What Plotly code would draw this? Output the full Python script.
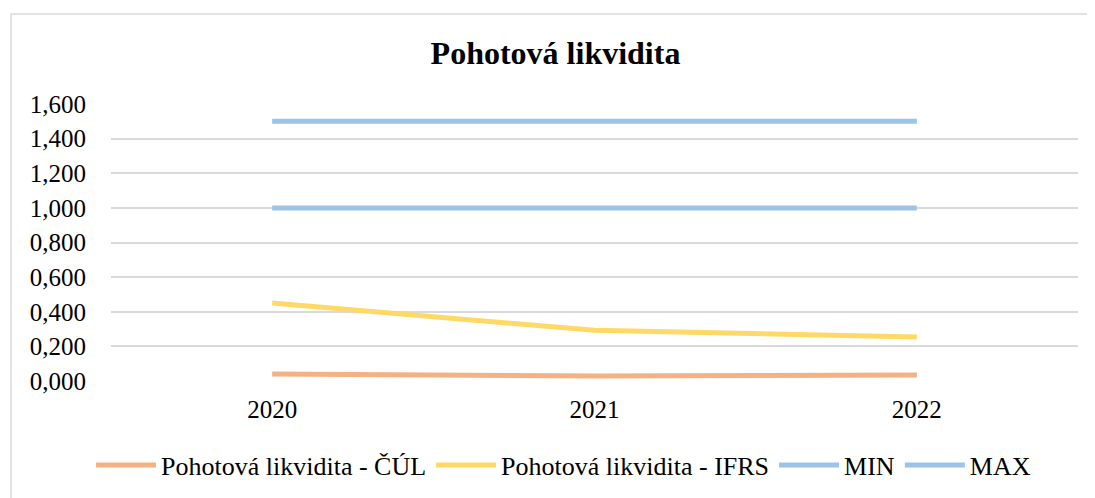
import plotly.graph_objects as go

years = ["2020", "2021", "2022"]
cul = [0.040, 0.029, 0.035]
ifrs = [0.450, 0.293, 0.254]
min_v = [1.0, 1.0, 1.0]
max_v = [1.5, 1.5, 1.5]

names = ["Pohotová likvidita - ČÚL", "Pohotová likvidita - IFRS", "MIN", "MAX"]
colors = ["#F4B183", "#FFD966", "#9DC3E6", "#9DC3E6"]
series = [cul, ifrs, min_v, max_v]

font_family = "Liberation Serif"

fig = go.Figure()
for n, c, s in zip(names, colors, series):
    fig.add_trace(go.Scatter(x=years, y=s, name=n, mode="lines",
                             line=dict(color=c, width=5)))

fig.update_layout(
    width=1095, height=498,
    paper_bgcolor="white", plot_bgcolor="white",
    margin=dict(l=103, r=25, t=96, b=125),
    separators=", ",
    font=dict(family=font_family, size=25, color="#000000"),
    title=dict(text="<b>Pohotová likvidita</b>", x=0.5, xanchor="center",
               y=0.91, yanchor="middle",
               font=dict(family=font_family, size=32, color="#000000")),
    showlegend=True,
    legend=dict(orientation="h", x=0.468, xanchor="center", y=-0.304, yanchor="middle",
                font=dict(family=font_family, size=26, color="#000000"),
                itemwidth=60, tracegroupgap=0),
    xaxis=dict(type="category", range=[-0.5, 2.5], showgrid=False, showline=False,
               ticks="", tickfont=dict(family=font_family, size=25, color="#000000"),
               ticklabelstandoff=11),
    yaxis=dict(range=[0, 1.6], dtick=0.2, tickformat=".3f", showgrid=True,
               gridcolor="#D9D9D9", gridwidth=1.5, zeroline=False, showline=False,
               ticks="", tickfont=dict(family=font_family, size=25, color="#000000"),
               ticklabelstandoff=24),
    shapes=[dict(type="rect", xref="paper", yref="paper",
                 x0=-0.1034, x1=1.05, y0=-0.45, y1=1.325,
                 line=dict(color="#D9D9D9", width=1.5), fillcolor="rgba(0,0,0,0)",
                 layer="below")],
)

fig.write_html("out.html")
